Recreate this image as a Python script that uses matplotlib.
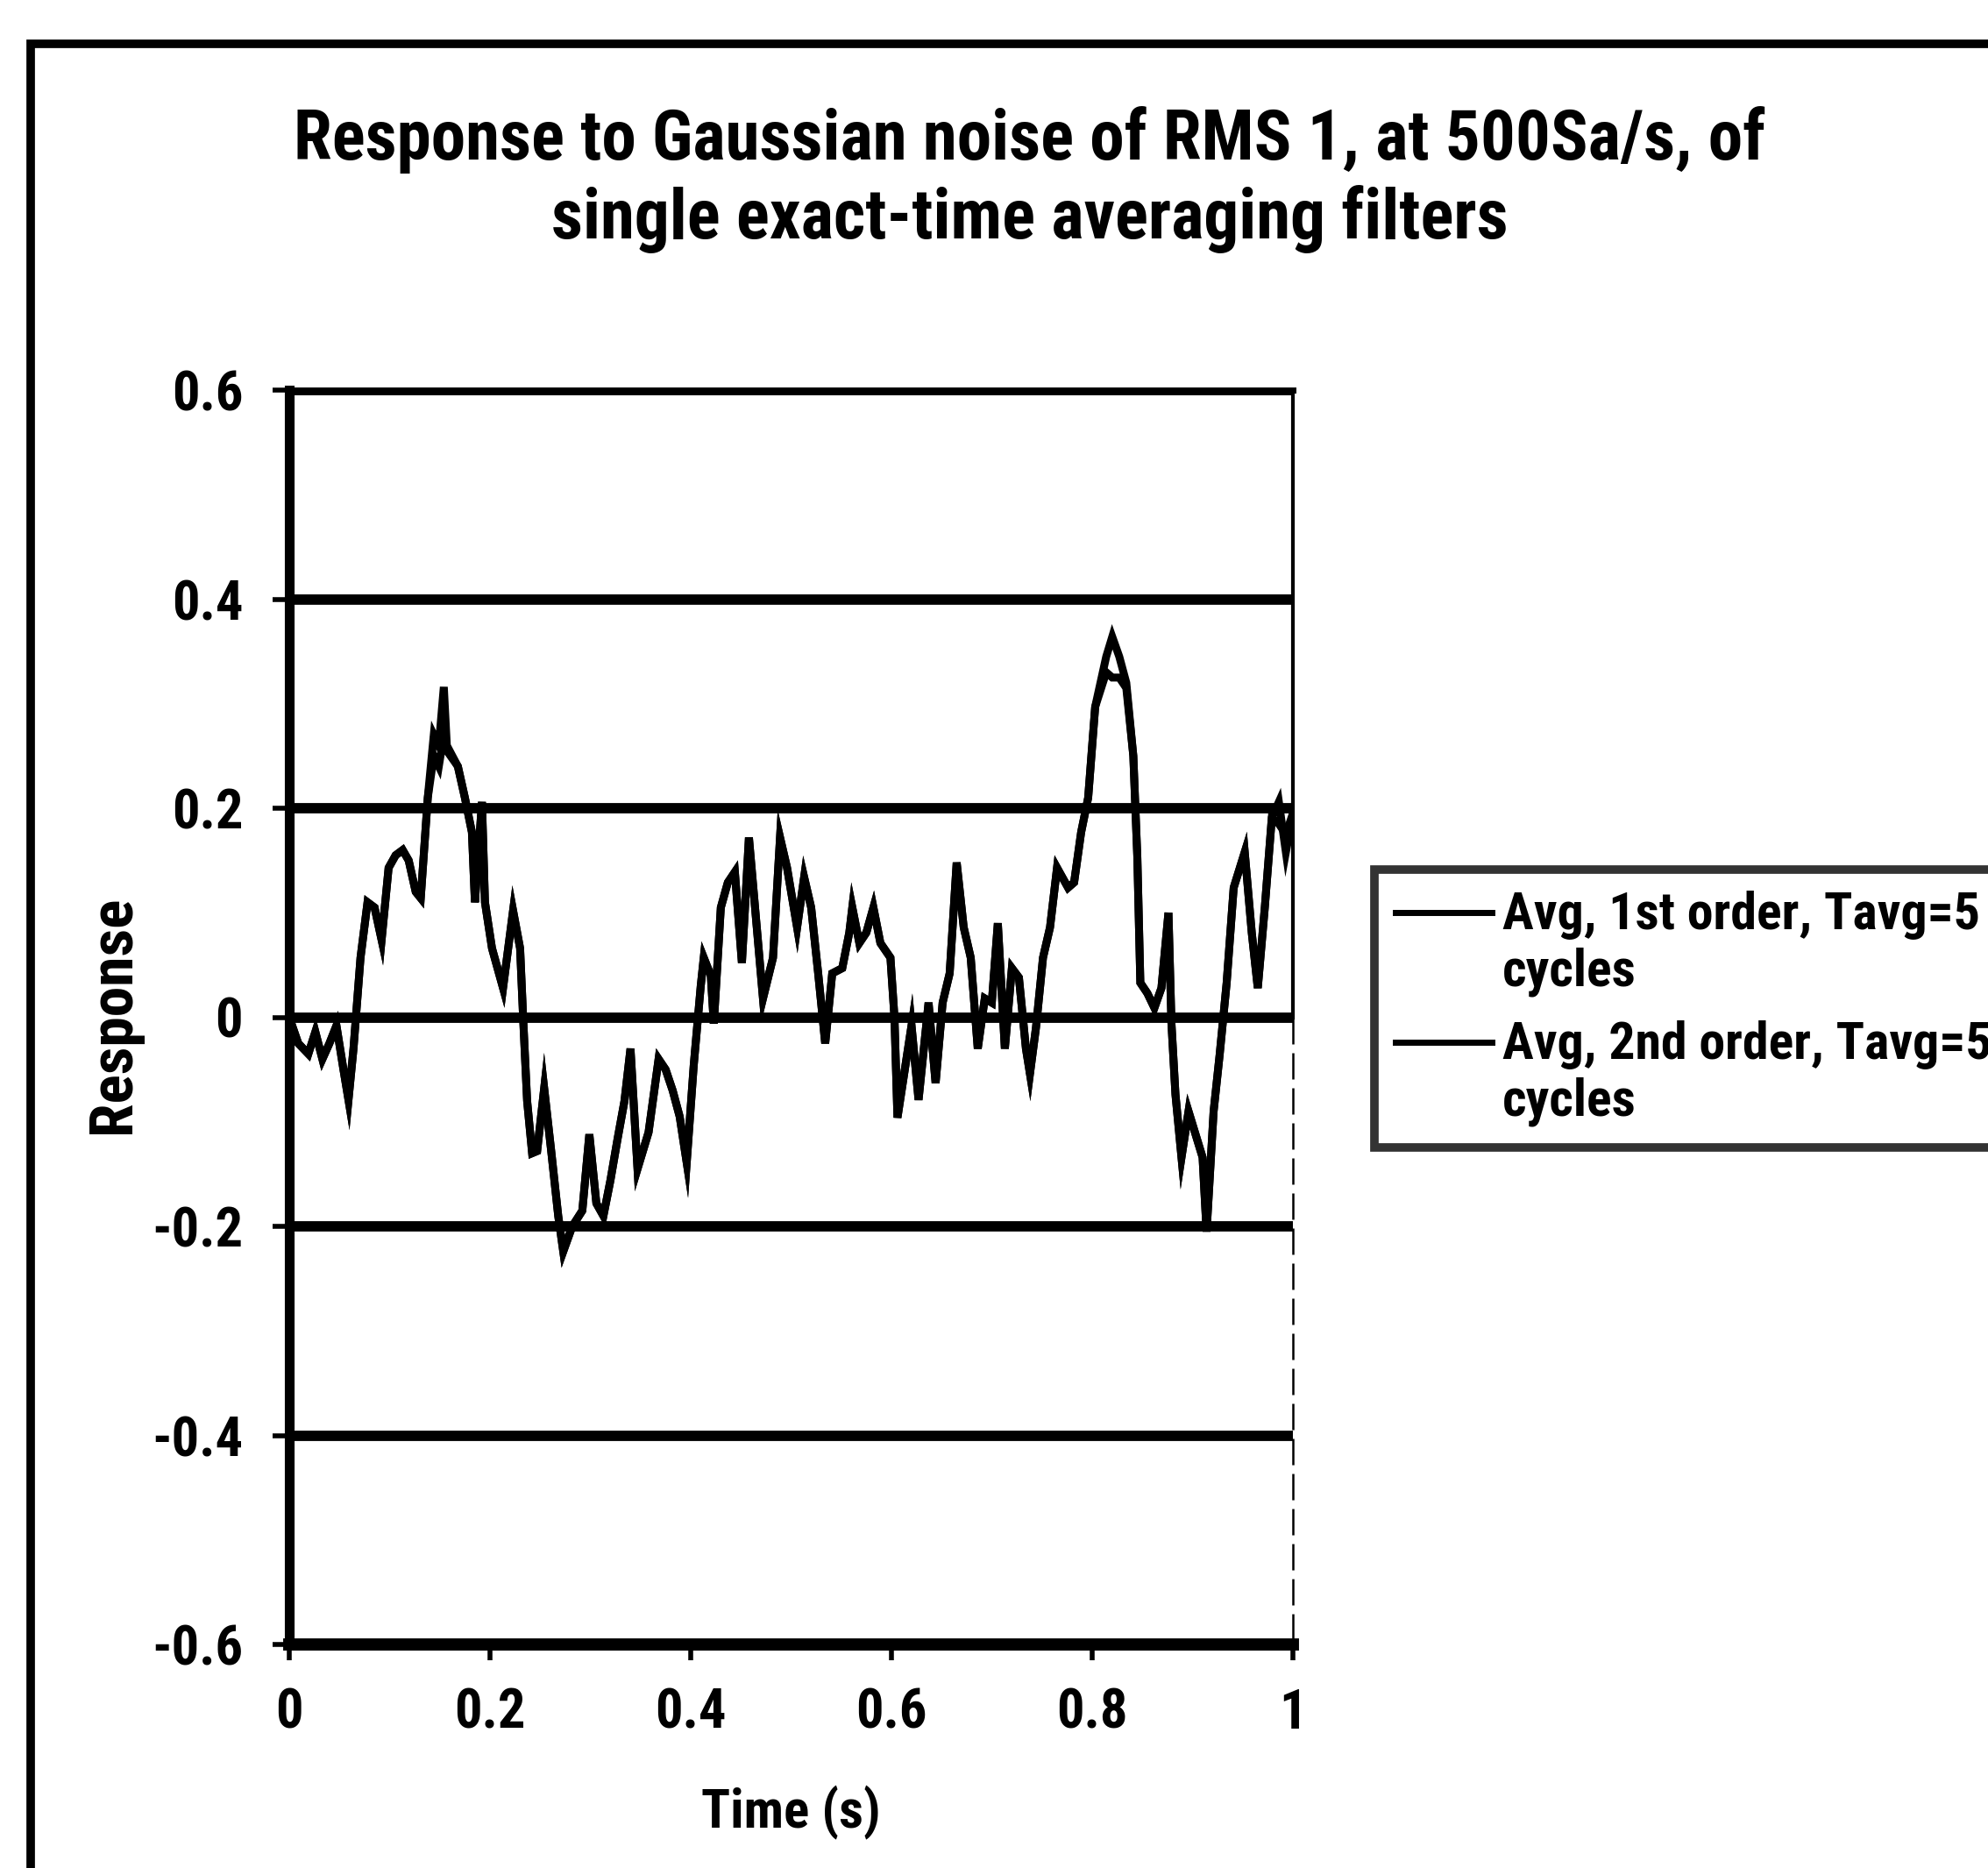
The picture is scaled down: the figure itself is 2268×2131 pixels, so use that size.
import matplotlib
matplotlib.use("Agg")
import matplotlib.pyplot as plt
from matplotlib import font_manager
from matplotlib.patches import Rectangle
from matplotlib.lines import Line2D
from matplotlib.legend_handler import HandlerLine2D

# Filter responses to Gaussian noise (RMS 1, 500 Sa/s)
time_s = [
    0.000, 0.009, 0.019, 0.026, 0.033, 0.040, 0.047, 0.054, 0.059, 0.064,
    0.071, 0.078, 0.085, 0.092, 0.099, 0.106, 0.113, 0.119, 0.126, 0.131,
    0.138, 0.144, 0.149, 0.154, 0.157, 0.168, 0.175, 0.182, 0.185, 0.192,
    0.195, 0.202, 0.213, 0.223, 0.230, 0.233, 0.237, 0.242, 0.247, 0.254,
    0.261, 0.268, 0.273, 0.282, 0.292, 0.299, 0.306, 0.313, 0.320, 0.327,
    0.334, 0.340, 0.347, 0.358, 0.368, 0.375, 0.382, 0.389, 0.396, 0.403,
    0.410, 0.413, 0.420, 0.423, 0.430, 0.437, 0.444, 0.451, 0.458, 0.465,
    0.472, 0.482, 0.489, 0.496, 0.506, 0.513, 0.520, 0.527, 0.534, 0.541,
    0.551, 0.558, 0.561, 0.568, 0.575, 0.582, 0.589, 0.599, 0.603, 0.606,
    0.613, 0.620, 0.627, 0.637, 0.644, 0.651, 0.658, 0.665, 0.672, 0.679,
    0.686, 0.693, 0.700, 0.706, 0.713, 0.720, 0.727, 0.734, 0.738, 0.744,
    0.751, 0.758, 0.765, 0.776, 0.782, 0.789, 0.796, 0.803, 0.814, 0.820,
    0.827, 0.834, 0.841, 0.845, 0.848, 0.855, 0.862, 0.869, 0.876, 0.879,
    0.883, 0.889, 0.896, 0.903, 0.910, 0.914, 0.921, 0.927, 0.934, 0.941,
    0.952, 0.959, 0.965, 0.972, 0.979, 0.986, 0.993, 1.000,
]

avg_1st = [
    0.000, -0.025, -0.035, -0.014, -0.040, -0.025, -0.008, -0.050, -0.079, -0.030,
    0.057, 0.110, 0.105, 0.074, 0.143, 0.155, 0.160, 0.150, 0.120, 0.114,
    0.210, 0.270, 0.260, 0.316, 0.260, 0.240, 0.210, 0.177, 0.110, 0.206,
    0.110, 0.066, 0.028, 0.102, 0.066, 0.000, -0.080, -0.130, -0.128, -0.068,
    -0.128, -0.190, -0.224, -0.200, -0.185, -0.112, -0.178, -0.190, -0.156, -0.117,
    -0.080, -0.030, -0.145, -0.110, -0.040, -0.050, -0.070, -0.095, -0.139, -0.046,
    0.030, 0.057, 0.040, -0.006, 0.105, 0.129, 0.139, 0.052, 0.172, 0.095,
    0.018, 0.057, 0.172, 0.143, 0.086, 0.134, 0.105, 0.042, -0.025, 0.042,
    0.047, 0.081, 0.105, 0.071, 0.081, 0.105, 0.071, 0.057, 0.000, -0.096,
    -0.052, -0.008, -0.079, 0.014, -0.063, 0.014, 0.042, 0.148, 0.086, 0.057,
    -0.030, 0.018, 0.014, 0.090, -0.030, 0.047, 0.038, -0.030, -0.054, -0.010,
    0.057, 0.086, 0.143, 0.124, 0.129, 0.177, 0.210, 0.297, 0.345, 0.364,
    0.345, 0.320, 0.250, 0.153, 0.033, 0.023, 0.009, 0.028, 0.100, -0.006,
    -0.074, -0.134, -0.090, -0.112, -0.134, -0.205, -0.090, -0.036, 0.033, 0.124,
    0.158, 0.081, 0.028, 0.105, 0.191, 0.206, 0.158, 0.195,
]

avg_2nd = [
    0.000, -0.025, -0.035, -0.014, -0.040, -0.025, -0.008, -0.050, -0.079, -0.030,
    0.057, 0.110, 0.105, 0.074, 0.143, 0.155, 0.160, 0.150, 0.120, 0.114,
    0.210, 0.250, 0.240, 0.270, 0.255, 0.240, 0.210, 0.177, 0.110, 0.206,
    0.110, 0.066, 0.028, 0.102, 0.066, 0.000, -0.080, -0.130, -0.128, -0.068,
    -0.128, -0.190, -0.224, -0.200, -0.185, -0.112, -0.178, -0.190, -0.156, -0.117,
    -0.080, -0.030, -0.145, -0.110, -0.040, -0.050, -0.070, -0.095, -0.139, -0.046,
    0.030, 0.057, 0.040, -0.006, 0.105, 0.129, 0.139, 0.052, 0.172, 0.095,
    0.018, 0.057, 0.172, 0.143, 0.086, 0.134, 0.105, 0.042, -0.025, 0.042,
    0.047, 0.081, 0.105, 0.071, 0.081, 0.105, 0.071, 0.057, 0.000, -0.096,
    -0.052, -0.008, -0.079, 0.014, -0.063, 0.014, 0.042, 0.148, 0.086, 0.057,
    -0.030, 0.018, 0.014, 0.090, -0.030, 0.047, 0.038, -0.030, -0.054, -0.010,
    0.057, 0.086, 0.143, 0.124, 0.129, 0.177, 0.210, 0.297, 0.330, 0.325,
    0.325, 0.315, 0.250, 0.153, 0.033, 0.023, 0.009, 0.028, 0.100, -0.006,
    -0.074, -0.134, -0.090, -0.112, -0.134, -0.205, -0.090, -0.036, 0.033, 0.124,
    0.158, 0.081, 0.028, 0.105, 0.191, 0.185, 0.175, 0.195,
]

series_labels = ["Avg, 1st order, Tavg=5\ncycles", "Avg, 2nd order, Tavg=5\ncycles"]
x_ticks = [0, 0.2, 0.4, 0.6, 0.8, 1]
x_tick_labels = ["0", "0.2", "0.4", "0.6", "0.8", "1"]
y_ticks = [-0.6, -0.4, -0.2, 0, 0.2, 0.4, 0.6]
y_tick_labels = ["-0.6", "-0.4", "-0.2", "0", "0.2", "0.4", "0.6"]
title_lines = ["Response to Gaussian noise of RMS 1, at 500Sa/s, of",
               "single exact-time averaging filters"]
x_label = "Time (s)"
y_label = "Response"

# Pick a narrow bold sans if one is available
installed = {f.name for f in font_manager.fontManager.ttflist}
preferred = ["Liberation Sans Narrow", "Arial Narrow", "Roboto Condensed",
             "DejaVu Sans Condensed", "Liberation Sans"]
family = next((f for f in preferred if f in installed), "DejaVu Sans")
plt.rcParams["font.family"] = [family, "DejaVu Sans"]
plt.rcParams["font.weight"] = "bold"


class FirstLineHandler(HandlerLine2D):
    """Legend line drawn level with the first line of a two-line label."""

    def __init__(self, shift, **kw):
        super().__init__(**kw)
        self.shift = shift

    def create_artists(self, legend, orig_handle, xdescent, ydescent,
                       width, height, fontsize, trans):
        artists = super().create_artists(legend, orig_handle, xdescent, ydescent,
                                         width, height, fontsize, trans)
        for a in artists:
            a.set_ydata([y + self.shift * fontsize for y in a.get_ydata()])
        return artists


W, H = 2268, 2131
fig = plt.figure(figsize=(W / 100, H / 100), dpi=100)
fig.patch.set_facecolor("white")

# Outer chart frame (runs off the right and bottom edges)
fig.patches.append(Rectangle((35 / W, -0.2), 1.5, 1 - 50 / H + 0.2,
                             transform=fig.transFigure, fill=False,
                             edgecolor="black", linewidth=7, clip_on=False))

ax = fig.add_axes([330 / W, 1 - 1876 / H, 1145 / W, 1431 / H])
line1, = ax.plot(time_s, avg_1st, color="black", lw=6.5, solid_joinstyle="miter",
                 label=series_labels[0], zorder=3)
line2, = ax.plot(time_s, avg_2nd, color="black", lw=6.5, solid_joinstyle="miter",
                 label=series_labels[1], zorder=3)

ax.set_xlim(0, 1)
ax.set_ylim(-0.6, 0.6)
ax.set_xticks(x_ticks)
ax.set_xticklabels(x_tick_labels)
ax.set_yticks(y_ticks)
ax.set_yticklabels(y_tick_labels)
ax.yaxis.grid(True, color="black", linewidth=8.5)
ax.set_axisbelow(True)

ax.tick_params(axis="y", direction="out", length=14, width=4, pad=24,
               labelsize=45, colors="black")
ax.tick_params(axis="x", direction="out", length=13, width=4, pad=22,
               labelsize=45, colors="black")
for lbl in ax.get_xticklabels() + ax.get_yticklabels():
    lbl.set_fontweight("bold")

ax.spines["left"].set_linewidth(8)
ax.spines["bottom"].set_linewidth(10)
ax.spines["top"].set_linewidth(5)
ax.spines["right"].set_visible(False)
# thin plot-area border on the right
ax.plot([1, 1], [1, 0.5], transform=ax.transAxes, color="black", lw=3,
        clip_on=False, zorder=2)
ax.plot([1, 1], [0.5, 0], transform=ax.transAxes, color="black", lw=1.8,
        linestyle=(0, (12, 4)), clip_on=False, zorder=2)

fig.text(1175 / W, 1 - 160 / H, title_lines[0], ha="center", va="center",
         fontsize=57, fontweight="bold")
fig.text(1175 / W, 1 - 250 / H, title_lines[1], ha="center", va="center",
         fontsize=57, fontweight="bold")

fig.text(902 / W, 1 - 2068 / H, x_label, ha="center", va="center",
         fontsize=44, fontweight="bold")
fig.text(130 / W, 1 - 1157 / H, y_label, ha="center", va="center",
         rotation=90, fontsize=50, fontweight="bold")

handles = [Line2D([], [], color="black", lw=5), Line2D([], [], color="black", lw=5)]
leg = fig.legend(handles, series_labels, loc="upper left",
                 bbox_to_anchor=(1568 / W, 1 - 992 / H), borderaxespad=0,
                 frameon=True, fancybox=False, shadow=False, fontsize=43,
                 handlelength=1.85, handletextpad=0.2, borderpad=0.4,
                 labelspacing=0.45,
                 handler_map={Line2D: FirstLineHandler(0.62)})
leg.get_frame().set_edgecolor("black")
leg.get_frame().set_linewidth(7)
for t in leg.get_texts():
    t.set_fontweight("bold")

fig.savefig("out.png", dpi=100, facecolor="white")
